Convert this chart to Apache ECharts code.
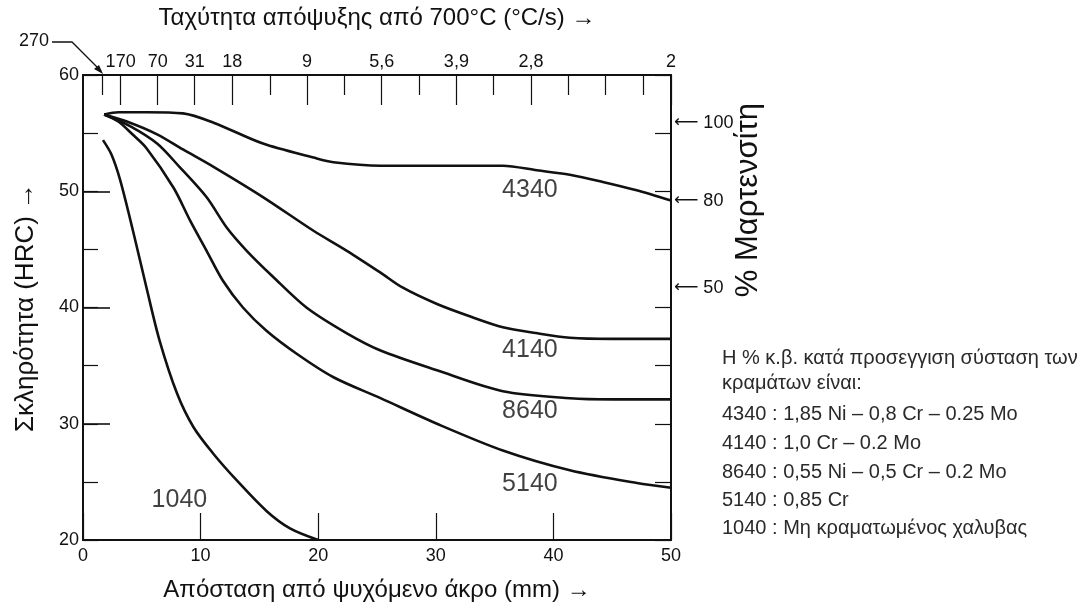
<!DOCTYPE html>
<html>
<head>
<meta charset="utf-8">
<script src="https://cdn.jsdelivr.net/npm/echarts@6/dist/echarts.min.js"></script>
<style>
  html, body { margin: 0; padding: 0; background: #fff; }
  #chart { width: 1089px; height: 612px; }
</style>
</head>
<body>
<div id="chart"></div>
<script>
// Jominy curves: distance from quenched end (mm) vs hardness (HRC)
const dist4340 = [1.8, 3, 5.4, 8.5, 11.1, 15.3, 19.6, 21.3, 25.3, 30, 35.7, 38.6, 41.5, 44.2, 47, 50];
const hrc4340  = [56.6, 56.8, 56.8, 56.7, 55.9, 54.1, 52.9, 52.5, 52.2, 52.2, 52.2, 51.8, 51.4, 50.8, 50.1, 49.2];

const dist4140 = [1.8, 4, 6.3, 8.5, 11.1, 15.3, 19.6, 22.4, 25.3, 27.2, 30.1, 33, 35.7, 38.5, 41.4, 45, 50];
const hrc4140  = [56.6, 55.9, 54.9, 53.6, 52.1, 49.5, 46.6, 44.9, 43.0, 41.7, 40.3, 39.2, 38.3, 37.8, 37.4, 37.3, 37.3];

const dist8640 = [1.8, 4, 6.3, 8.2, 10.5, 12.2, 13.9, 16.2, 19, 22.4, 25.3, 30.1, 35.7, 41.4, 45, 50];
const hrc8640  = [56.6, 55.6, 54.1, 52.1, 49.5, 46.9, 44.9, 42.6, 40, 37.8, 36.3, 34.6, 32.8, 32.2, 32.1, 32.1];

const dist5140 = [1.8, 3, 4.2, 5.4, 7.7, 9.1, 10.5, 11.9, 13.6, 15.6, 18.2, 21.3, 25.3, 30.1, 35.7, 41.4, 47.1, 50];
const hrc5140  = [56.6, 56.0, 54.9, 53.7, 50.3, 47.5, 44.9, 42.3, 40.0, 38.0, 36.0, 34.0, 32.2, 30.0, 27.7, 26.0, 24.9, 24.5];

const dist1040 = [1.7, 2.4, 3.15, 4.25, 5.4, 6.5, 8.0, 9.4, 11.1, 13.1, 15.6, 17.6, 20];
const hrc1040  = [54.4, 53.2, 51.0, 46.6, 41.7, 37.2, 32.6, 29.7, 27.4, 25.1, 22.5, 21.0, 20.0];

const steels = ['4340', '4140', '8640', '5140', '1040'];
// where each curve name sits (mm, HRC)
const labelDist = [38.0, 38.0, 38.0, 38.0, 8.2];
const labelHrc  = [50.1, 36.3, 31.1, 24.8, 23.4];

// top scale: cooling rate from 700°C at given distances
const topTickMm     = [3.2, 6.35, 9.5, 12.7, 19.05, 25.4, 31.75, 38.1, 50];
const topTickLabels = ['170', '70', '31', '18', '9', '5,6', '3,9', '2,8', '2'];
const topMinorMm    = [1.6, 15.9, 22.2, 28.6, 34.9, 41.3, 44.45, 47.6];

// right scale: % martensite
const martHrc    = [55.9, 49.2, 41.7];
const martLabels = ['100', '80', '50'];

const compLines = [
  'Η % κ.β. κατά προσεγγιση σύσταση των',
  'κραμάτων είναι:',
  '4340 : 1,85 Ni – 0,8 Cr – 0.25 Mo',
  '4140 : 1,0 Cr – 0.2 Mo',
  '8640 : 0,55 Ni – 0,5 Cr – 0.2 Mo',
  '5140 : 0,85 Cr',
  '1040 : Μη κραματωμένος χαλυβας'
];

const FONT = "'Liberation Sans', Arial, sans-serif";
const INK = '#111';

const zip = (xs, ys) => xs.map((x, i) => [x, ys[i]]);
const curves = [zip(dist4340, hrc4340), zip(dist4140, hrc4140), zip(dist8640, hrc8640), zip(dist5140, hrc5140), zip(dist1040, hrc1040)];

const chart = echarts.init(document.getElementById('chart'), null, { renderer: 'canvas' });

const lineSeries = curves.map((d, i) => ({
  type: 'line',
  name: steels[i],
  data: d,
  showSymbol: false,
  smooth: 0.3,
  lineStyle: { color: INK, width: 2.6 },
  silent: true
}));

const axisLine = { show: true, onZero: false, lineStyle: { color: INK, width: 2 } };

const option = {
  animation: false,
  backgroundColor: '#fff',
  textStyle: { fontFamily: FONT, color: INK },
  grid: { left: 83, right: 418, top: 75, bottom: 72 },
  xAxis: [
    {
      type: 'value', min: 0, max: 50, interval: 10, position: 'bottom',
      name: 'Απόσταση από ψυχόμενο άκρο (mm) →', nameLocation: 'middle', nameGap: 38,
      nameTextStyle: { fontSize: 24, color: INK, fontFamily: FONT },
      axisLine: axisLine,
      axisTick: { inside: true, length: 27, lineStyle: { color: INK, width: 1.2 } },
      axisLabel: { fontSize: 18, color: INK, margin: 7, fontFamily: FONT },
      splitLine: { show: false }
    },
    {
      type: 'value', min: 0, max: 50, position: 'top',
      name: 'Ταχύτητα απόψυξης από 700°C (°C/s) →', nameLocation: 'middle', nameGap: 45,
      nameTextStyle: { fontSize: 24, color: INK, fontFamily: FONT },
      axisLine: axisLine,
      axisTick: { inside: true, length: 30, customValues: topTickMm, lineStyle: { color: INK, width: 1.2 } },
      axisLabel: {
        fontSize: 18, color: INK, margin: 4, fontFamily: FONT,
        customValues: topTickMm,
        formatter: v => {
          const i = topTickMm.findIndex(m => Math.abs(m - v) < 1e-6);
          return i >= 0 ? topTickLabels[i] : '';
        }
      },
      splitLine: { show: false }
    },
    {
      type: 'value', min: 0, max: 50, position: 'top',
      axisLine: { show: false, onZero: false },
      axisTick: { inside: true, length: 20, customValues: topMinorMm, lineStyle: { color: INK, width: 1.2 } },
      axisLabel: { show: false },
      splitLine: { show: false }
    }
  ],
  yAxis: [
    {
      type: 'value', min: 20, max: 60, interval: 10, position: 'left',
      name: 'Σκληρότητα (HRC) →', nameLocation: 'middle', nameGap: 44,
      nameTextStyle: { fontSize: 26, color: INK, fontFamily: FONT },
      axisLine: axisLine,
      axisTick: { inside: true, length: 27, lineStyle: { color: INK, width: 1.6 } },
      axisLabel: { fontSize: 18, color: INK, margin: 4, fontFamily: FONT },
      splitLine: { show: false }
    },
    {
      type: 'value', min: 20, max: 60, interval: 5, position: 'right',
      axisLine: axisLine,
      axisTick: { inside: true, length: 16, lineStyle: { color: INK, width: 1.2 } },
      axisLabel: {
        fontSize: 18, color: INK, margin: 3, fontFamily: FONT,
        customValues: martHrc,
        formatter: v => {
          const i = martHrc.findIndex(m => Math.abs(m - v) < 1e-6);
          return i >= 0 ? '{a|⟵} ' + martLabels[i] : '';
        },
        rich: { a: { fontFamily: 'DejaVu Sans', fontSize: 17, color: INK } }
      },
      splitLine: { show: false }
    },
    {
      // short 5-HRC ticks on the left border
      type: 'value', min: 20, max: 60, interval: 5, position: 'left',
      axisLine: { show: false, onZero: false },
      axisTick: { inside: true, length: 15, lineStyle: { color: INK, width: 1.2 } },
      axisLabel: { show: false },
      splitLine: { show: false }
    }
  ],
  series: lineSeries.concat([{
    type: 'scatter',
    data: labelDist.map((d, i) => ({ value: [d, labelHrc[i]], name: steels[i] })),
    symbolSize: 0,
    silent: true,
    label: {
      show: true, position: 'inside', formatter: p => p.name,
      fontSize: 25, color: INK, fontFamily: FONT
    }
  }]),
  graphic: [
    {
      type: 'text', left: 733, top: 103,
      rotation: Math.PI / 2,
      style: { text: '% Μαρτενσίτη', fontSize: 31, fill: INK, fontFamily: FONT }
    },
    {
      type: 'text', left: 19, top: 32,
      style: { text: '270', fontSize: 18, fill: INK, fontFamily: FONT }
    },
    {
      type: 'polyline',
      shape: { points: [[52, 42], [72, 42], [101, 71]] },
      style: { stroke: INK, lineWidth: 1.3, fill: null }
    },
    {
      type: 'polygon',
      shape: { points: [[103, 74], [94, 69], [99, 65]] },
      style: { fill: INK }
    }
  ].concat(compLines.map((t, i) => ({
    type: 'text', left: 722, top: [360, 385, 416, 445, 474, 502, 530][i] - 12,
    style: { text: t, fontSize: 20, fill: '#2a2a2a', fontFamily: FONT }
  })))
};

chart.setOption(option);
</script>
</body>
</html>
